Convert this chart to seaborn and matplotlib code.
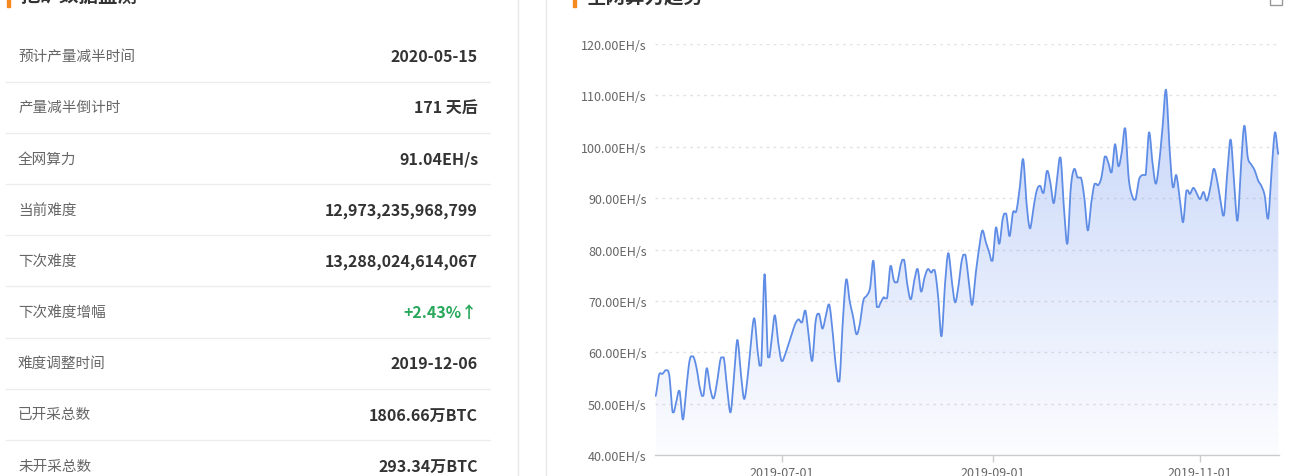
import numpy as np
import pandas as pd
import matplotlib
matplotlib.use("Agg")
import matplotlib.pyplot as plt
import matplotlib.dates as mdates
from matplotlib.lines import Line2D
from matplotlib.patches import Rectangle
import seaborn as sns

# ---------------- data ----------------
left_title = "挖矿数据监测"
right_title = "全网算力趋势"
row_labels = ["预计产量减半时间", "产量减半倒计时", "全网算力", "当前难度", "下次难度",
              "下次难度增幅", "难度调整时间", "已开采总数", "未开采总数"]
row_values = ["2020-05-15", "171 天后", "91.04EH/s", "12,973,235,968,799",
              "13,288,024,614,067", "+2.43%↑", "2019-12-06", "1806.66万BTC", "293.34万BTC"]
start_date = "2019-05-25"
hashrate = [
    51.5, 55.6, 55.8, 56.5, 55.5, 48.3, 50.2, 52.5, 46.9, 53.0,
    58.5, 59.2, 57.0, 53.0, 51.5, 56.9, 53.0, 51.0, 54.0, 58.5,
    59.0, 53.0, 48.3, 55.0, 62.4, 56.0, 50.9, 55.0, 62.0, 66.6,
    60.0, 57.4, 75.2, 59.0, 62.0, 67.2, 62.0, 58.3, 59.5, 61.5,
    63.5, 65.5, 66.4, 65.8, 68.1, 63.0, 58.3, 66.0, 67.5, 64.6,
    67.0, 69.3, 64.0, 57.0, 54.3, 66.0, 74.2, 70.0, 67.0, 63.5,
    65.5, 70.0, 71.0, 72.5, 77.8, 68.8, 69.5, 70.7, 70.5, 76.8,
    74.0, 73.6, 77.0, 78.0, 73.0, 70.3, 74.0, 76.2, 71.8, 74.5,
    76.2, 75.5, 76.0, 71.0, 63.1, 73.0, 79.3, 74.0, 69.7, 73.0,
    78.0, 79.0, 74.0, 69.2, 75.0, 80.0, 83.7, 81.5, 79.5, 77.8,
    84.3, 81.1, 86.0, 87.0, 82.6, 87.2, 87.5, 92.0, 97.6, 89.0,
    84.1, 88.0, 91.5, 92.4, 91.0, 95.3, 93.0, 89.0, 94.0, 97.9,
    88.0, 81.1, 92.0, 95.7, 94.0, 94.0, 90.0, 83.7, 89.0, 92.8,
    92.5, 94.0, 98.1, 97.0, 95.0, 100.5, 96.2, 99.0, 103.6, 94.0,
    90.5, 89.7, 93.5, 94.5, 94.5, 102.8, 97.0, 92.8, 97.0, 104.0,
    111.1, 100.0, 92.1, 94.5, 90.0, 85.3, 91.5, 90.8, 92.0, 91.0,
    89.8, 91.2, 89.5, 92.0, 95.7, 93.5, 89.5, 86.6, 95.0, 101.4,
    93.0, 85.6, 96.0, 104.1, 98.0, 96.6, 95.5, 93.5, 92.4, 90.5,
    86.0, 95.0, 102.8, 98.6,
]
y_ticks = [40, 50, 60, 70, 80, 90, 100, 110, 120]
x_ticks = ["2019-07-01", "2019-09-01", "2019-11-01"]

# ---------------- style ----------------
sns.set_theme(style="white")
plt.rcParams["font.family"] = ["Noto Sans CJK SC", "DejaVu Sans"]
plt.rcParams["axes.unicode_minus"] = False

W, H = 1299, 477
fig = plt.figure(figsize=(W / 100, H / 100), dpi=100)
fig.patch.set_facecolor("white")


def fx(x):
    return x / W


def fy(y):
    return 1 - y / H


# ---------------- left panel ----------------
fig.add_artist(Rectangle((fx(7), fy(8)), 3 / W, 12 / H, color="#f5891f", transform=fig.transFigure))
fig.text(fx(20), fy(6), left_title, fontsize=14, fontweight="bold", color="#333333",
         ha="left", va="bottom")
fig.add_artist(Rectangle((fx(573), fy(8)), 3 / W, 12 / H, color="#f5891f", transform=fig.transFigure))
fig.text(fx(587), fy(6), right_title, fontsize=14, fontweight="bold", color="#333333",
         ha="left", va="bottom")
fig.add_artist(Rectangle((fx(1270), fy(6)), 12 / W, 12 / H, fill=False, lw=1,
                         edgecolor="#999999", transform=fig.transFigure))

row_y0, row_step = 57, 51.2
for k, (lab, val) in enumerate(zip(row_labels, row_values)):
    yc = row_y0 + k * row_step
    fig.text(fx(18), fy(yc), lab, fontsize=10.5, color="#666666", ha="left", va="center")
    col = "#27a85a" if val.startswith("+") else "#333333"
    fig.text(fx(478), fy(yc), val, fontsize=11.5, fontweight="bold", color=col,
             ha="right", va="center")
    if k < len(row_labels) - 1:
        ys = yc + row_step / 2
        fig.add_artist(Line2D([fx(6), fx(490)], [fy(ys), fy(ys)], color="#ececec", lw=1,
                              transform=fig.transFigure))

fig.add_artist(Line2D([fx(518), fx(518)], [0, 1], color="#e8e8e8", lw=1, transform=fig.transFigure))
fig.add_artist(Line2D([fx(546), fx(546)], [0, 1], color="#e8e8e8", lw=1, transform=fig.transFigure))

# ---------------- chart ----------------
dates = pd.date_range(start_date, periods=len(hashrate), freq="D")
xnum = mdates.date2num(dates)
yv = np.asarray(hashrate, dtype=float)


def smooth_curve(x, y, n=10, t=0.5):
    """Cardinal-spline rendering of the series (display smoothing only)."""
    xs, ys = [], []
    m = len(x)
    for i in range(m - 1):
        y0 = y[i - 1] if i > 0 else y[i]
        y3 = y[i + 2] if i + 2 < m else y[i + 1]
        m1 = t * (y[i + 1] - y0)
        m2 = t * (y3 - y[i])
        s = np.linspace(0, 1, n, endpoint=False)
        h00 = 2 * s**3 - 3 * s**2 + 1
        h10 = s**3 - 2 * s**2 + s
        h01 = -2 * s**3 + 3 * s**2
        h11 = s**3 - s**2
        seg = h00 * y[i] + h10 * m1 + h01 * y[i + 1] + h11 * m2
        lo, hi = min(y[i], y[i + 1]), max(y[i], y[i + 1])
        # keep local extrema at the data points (like echarts' smooth)
        if (y[i] - y0) * (y[i + 1] - y[i]) <= 0 or (y[i + 1] - y[i]) * (y3 - y[i + 1]) <= 0:
            seg = np.clip(seg, lo, hi)
        xs.append(x[i] + s * (x[i + 1] - x[i]))
        ys.append(seg)
    xs.append([x[-1]])
    ys.append([y[-1]])
    return np.concatenate(xs), np.concatenate(ys)


sx, sy = smooth_curve(xnum, yv)
df_curve = pd.DataFrame({"date": mdates.num2date(sx), "hashrate": sy})

ax = fig.add_axes([fx(655), fy(456), (1279 - 655) / W, (456 - 45) / H])
ax.set_facecolor("white")

fill = ax.fill_between(sx, sy, 40, color="none", lw=0)
ymax = float(yv.max())
alphas = np.linspace(0.02, 0.34, 256)[:, None]
img = np.zeros((256, 1, 4))
img[..., 0] = 0.35
img[..., 1] = 0.52
img[..., 2] = 0.93
img[..., 3] = alphas
im = ax.imshow(img, extent=[xnum[0], xnum[-1], 40, ymax], origin="lower", aspect="auto",
               zorder=1, interpolation="bilinear")
im.set_clip_path(fill.get_paths()[0], transform=ax.transData)

sns.lineplot(data=df_curve, x="date", y="hashrate", ax=ax, color="#5f8de6", lw=1.3,
             zorder=3, sort=False, estimator=None)

ax.set_xlim(xnum[0] - 0.2, xnum[-1] + 0.2)
ax.set_ylim(40, 120)
ax.set_yticks(y_ticks)
ax.set_yticklabels([f"{v:.2f}EH/s" for v in y_ticks])
ax.set_xticks(mdates.date2num(pd.to_datetime(x_ticks)))
ax.set_xticklabels(x_ticks)
ax.set_xlabel("")
ax.set_ylabel("")

for v in y_ticks[1:]:
    ax.axhline(v, color="#e2e2e2", lw=1, ls=(0, (2, 3)), zorder=0)

for s in ["top", "right", "left"]:
    ax.spines[s].set_visible(False)
ax.spines["bottom"].set_color("#cccccc")
ax.spines["bottom"].set_linewidth(1)

ax.tick_params(axis="y", length=0, pad=6, labelsize=9, labelcolor="#666666")
ax.tick_params(axis="x", length=5, width=1, color="#cccccc", pad=3, labelsize=9,
               labelcolor="#666666", direction="out", bottom=True)
ax.grid(False)

fig.savefig("out.png", dpi=100, facecolor="white")
